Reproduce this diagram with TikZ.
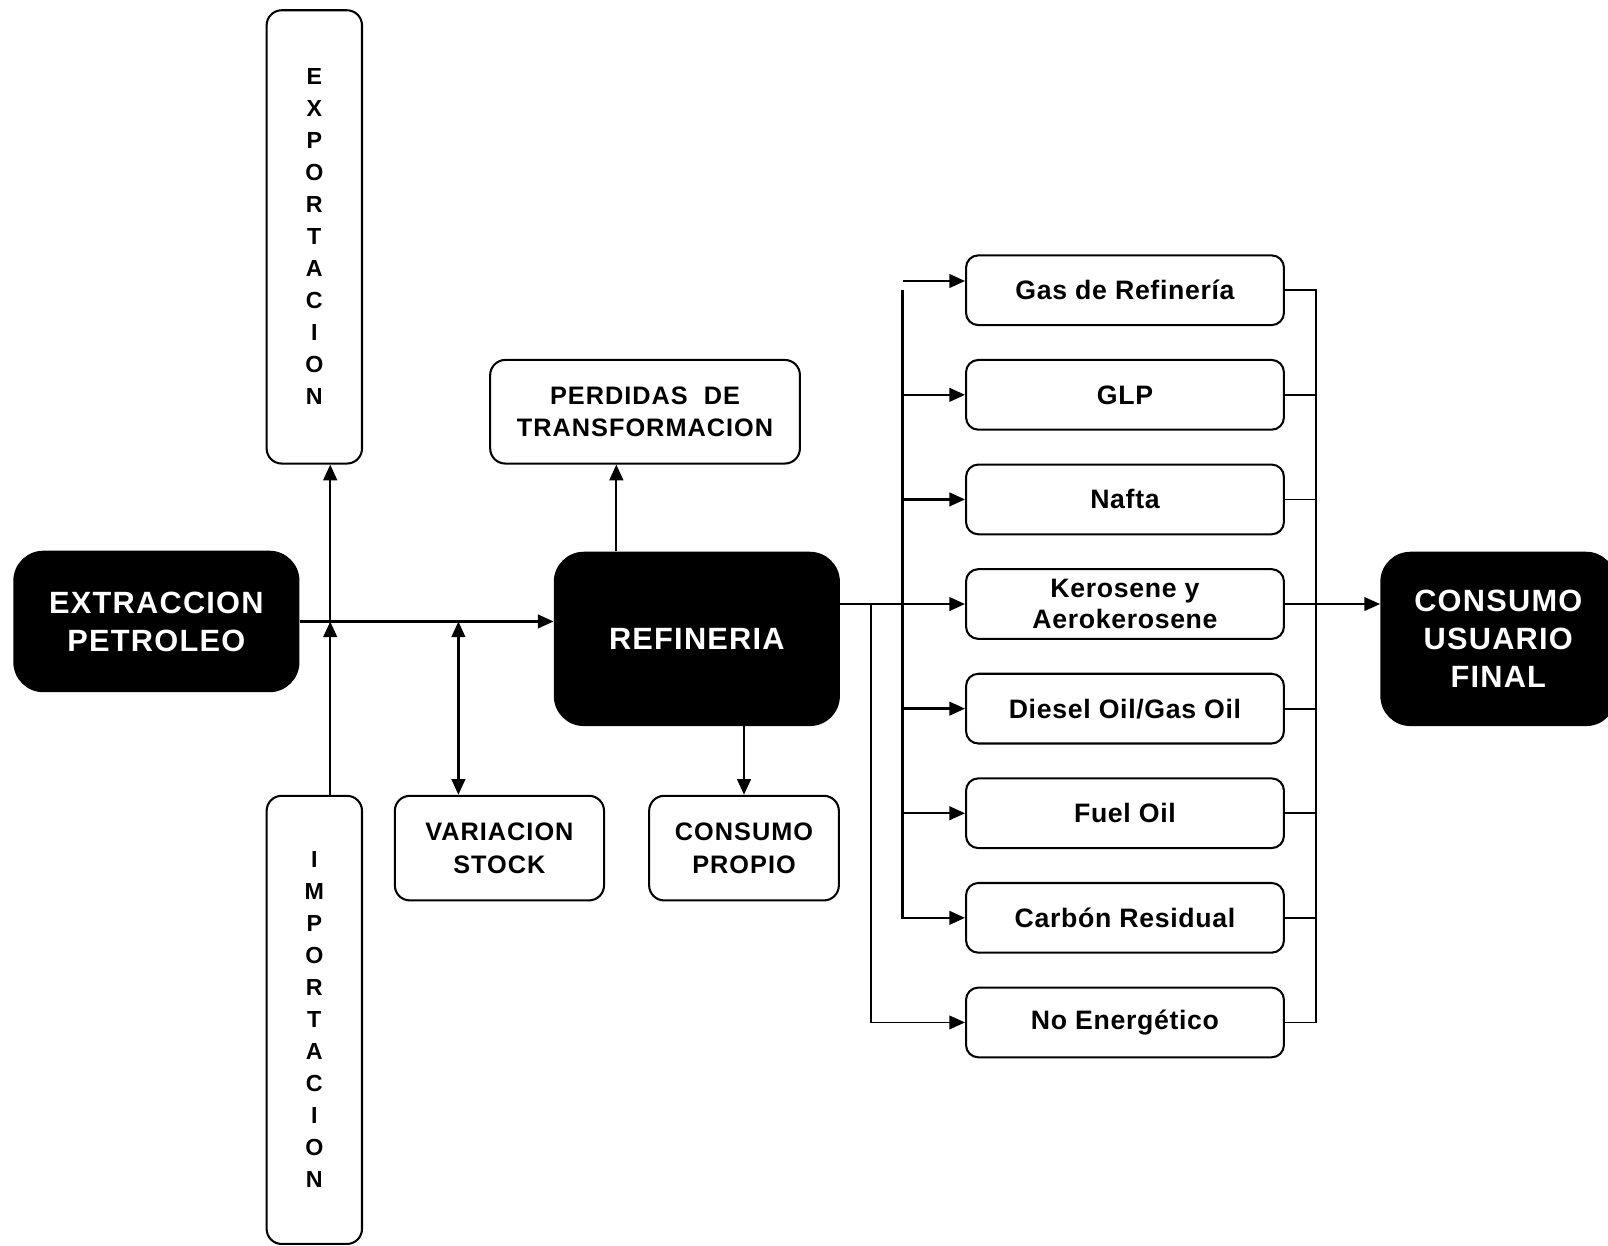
\documentclass[tikz,border=0pt]{standalone}
\usepackage{fontspec}
\setmainfont{Liberation Sans}
\newfontfamily\hfa[LetterSpace=4]{Liberation Sans}
\newfontfamily\hfb[LetterSpace=4]{Liberation Sans}
\newfontfamily\hfc[LetterSpace=2.5]{Liberation Sans}
\usetikzlibrary{arrows.meta}
\begin{document}
\begin{tikzpicture}[x=0.75pt,y=-0.75pt,
 blk/.style={fill=black,text=white,rounded corners=22pt,inner sep=0pt,align=center,font=\hfa\bfseries\fontsize{22.5}{27.75}\selectfont},
 wbox/.style={draw,line width=1.5pt,rounded corners=11pt,inner sep=0pt,align=center,font=\hfb\bfseries\fontsize{18.5}{24}\selectfont},
 prod/.style={draw,line width=1.5pt,rounded corners=9pt,inner sep=0pt,align=center,minimum width=232.5pt,minimum height=51pt,font=\hfc\bfseries\fontsize{19.5}{23.25}\selectfont},
 vbox/.style={draw,line width=1.5pt,rounded corners=11pt,inner sep=0pt,align=center,minimum width=69.75pt,font=\bfseries\fontsize{17}{23.4}\selectfont},
 tip/.tip={Triangle[length=11.5pt,width=10pt]},
 arr/.style={line width=1.7pt,-tip},
 ln/.style={line width=1.7pt},
 thinln/.style={line width=1.3pt}]
\useasboundingbox (0,0) rectangle (1568,1215);

\node[blk,minimum width=209.25pt,minimum height=103.5pt] (extr) at (152.5,606) {EXTRACCION\\PETROLEO};
\node[vbox,minimum height=331.5pt] (expo) at (306.5,231) {E\\X\\P\\O\\R\\T\\A\\C\\I\\O\\N};
\node[vbox,minimum height=327.75pt] (impo) at (306.5,994.5) {I\\M\\P\\O\\R\\T\\A\\C\\I\\O\\N};
\node[wbox,minimum width=226.5pt,minimum height=75.75pt] (perd) at (629,401.5) {PERDIDAS\ \ DE\\TRANSFORMACION};
\node[blk,minimum width=209.25pt,minimum height=127.5pt] (refi) at (679.5,623) {REFINERIA};
\node[wbox,minimum width=153pt,minimum height=76.5pt] (vari) at (487,827) {VARIACION\\STOCK};
\node[wbox,minimum width=138.75pt,minimum height=76.5pt] (cpro) at (725.5,827) {CONSUMO\\PROPIO};

\node[prod] (p1) at (1097,283) {Gas de Refinería};
\node[prod] (p2) at (1097,385) {GLP};
\node[prod] (p3) at (1097,487) {Nafta};
\node[prod] (p4) at (1097,589) {Kerosene y\\Aerokerosene};
\node[prod] (p5) at (1097,691) {Diesel Oil/Gas Oil};
\node[prod] (p6) at (1097,793) {Fuel Oil};
\node[prod] (p7) at (1097,895) {Carbón Residual};
\node[prod] (p8) at (1097,997) {No Energético};

\node[blk,minimum width=172.5pt,minimum height=127.5pt] (fin) at (1461,623) {CONSUMO\\USUARIO\\FINAL};

\coordinate (j1) at (322,606);
\coordinate (j2) at (447,606);
\coordinate (pa) at (601,0);
\coordinate (b1) at (849,0);
\coordinate (b2) at (880,0);
\coordinate (b3) at (1283,0);
\coordinate (t1) at (881,274);

\draw[arr] (extr.east |- j1) -- (refi.west |- j1);
\draw[arr] (j1) -- (j1 |- expo.south);
\draw[arr] (j1 |- impo.north) -- (j1);
\draw[ln,tip-tip] (j2) -- (j2 |- vari.north);
\draw[arr] (pa |- refi.north) -- (pa |- perd.south);
\draw[arr] (refi.south -| cpro.north) -- (cpro.north);
\draw[arr] (refi.east |- p4.west) -- (p4.west);
\draw[arr,thinln] (b1 |- p4.west) |- (p8.west);
\draw[arr] (b2 |- p1.west) |- (p7.west);
\foreach \k in {2,3,5,6} \draw[arr] (b2 |- p\k.west) -- (p\k.west);
\draw[arr] (t1) -- (t1 -| p1.west);

\draw[thinln] (p1.east) -| (b3 |- p8.east) -- (p8.east);
\foreach \k in {2,...,7} \draw[thinln] (p\k.east) -- (b3 |- p\k.east);
\draw[arr,thinln] (b3 |- p4.east) -- (fin.west |- p4.east);
\end{tikzpicture}
\end{document}
